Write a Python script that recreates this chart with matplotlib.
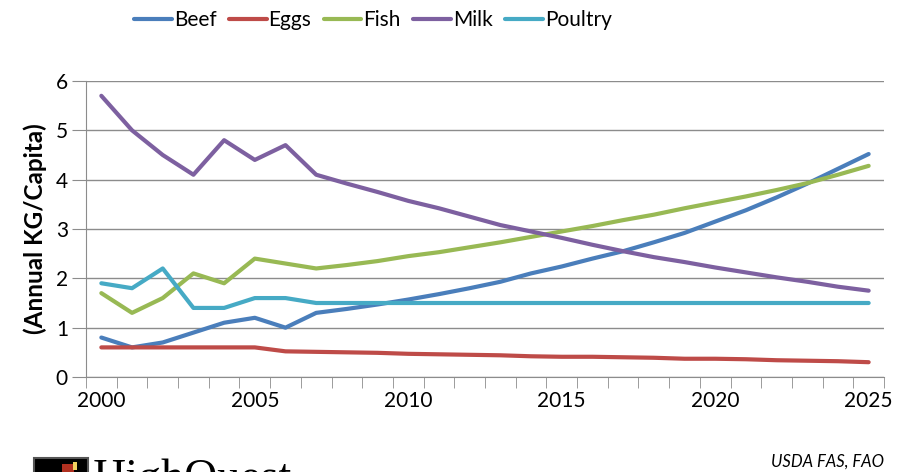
import numpy as np
import matplotlib
matplotlib.use("Agg")
import matplotlib.pyplot as plt
import matplotlib.patches as mpatches

plt.rcParams["font.family"] = ["Lato", "DejaVu Sans"]

years = list(range(2000, 2026))
beef = [0.8, 0.6, 0.7, 0.9, 1.1, 1.2, 1.0, 1.3, 1.38, 1.47, 1.57, 1.68, 1.8,
        1.93, 2.1, 2.24, 2.4, 2.55, 2.73, 2.92, 3.15, 3.38, 3.64, 3.92, 4.22, 4.52]
eggs = [0.6, 0.6, 0.6, 0.6, 0.6, 0.6, 0.52, 0.51, 0.5, 0.49, 0.47, 0.46, 0.45,
        0.44, 0.42, 0.41, 0.41, 0.4, 0.39, 0.37, 0.37, 0.36, 0.34, 0.33, 0.32, 0.3]
fish = [1.7, 1.3, 1.6, 2.1, 1.9, 2.4, 2.3, 2.2, 2.27, 2.35, 2.45, 2.53, 2.63,
        2.73, 2.84, 2.95, 3.06, 3.18, 3.29, 3.42, 3.54, 3.66, 3.79, 3.93, 4.1, 4.28]
milk = [5.7, 5.0, 4.5, 4.1, 4.8, 4.4, 4.7, 4.1, 3.92, 3.75, 3.57, 3.42, 3.25,
        3.08, 2.95, 2.82, 2.68, 2.55, 2.43, 2.33, 2.22, 2.12, 2.02, 1.93, 1.83, 1.75]
poultry = [1.9, 1.8, 2.2, 1.4, 1.4, 1.6, 1.6, 1.5, 1.5, 1.5, 1.5, 1.5, 1.5,
           1.5, 1.5, 1.5, 1.5, 1.5, 1.5, 1.5, 1.5, 1.5, 1.5, 1.5, 1.5, 1.5]

series = [("Beef", beef, "#4A7EBB"), ("Eggs", eggs, "#BE4B48"),
          ("Fish", fish, "#98B954"), ("Milk", milk, "#7D60A0"),
          ("Poultry", poultry, "#46AAC5")]

fig = plt.figure(figsize=(8.97, 4.72), dpi=100)
ax = fig.add_axes([86 / 897, 1 - 377 / 472, (884 - 86) / 897, (377 - 81) / 472])

x = np.arange(len(years))
for name, vals, col in series:
    ax.plot(x, vals, color=col, lw=3, label=name, solid_capstyle="round")

ax.set_xlim(-0.5, len(years) - 0.5)
ax.set_ylim(0, 6)
ax.set_yticks(range(7))
ax.grid(axis="y", color="#8c8c8c", lw=1)
ax.set_axisbelow(True)

lab_idx = [i for i, y in enumerate(years) if y % 5 == 0]
ax.set_xticks(lab_idx)
ax.set_xticklabels([str(years[i]) for i in lab_idx])
ax.set_xticks(np.arange(-0.5, len(years)), minor=True)
ax.tick_params(axis="x", which="major", length=0, pad=10, labelsize=15)
ax.tick_params(axis="x", which="minor", length=8, color="#8c8c8c", direction="out")
ax.tick_params(axis="y", length=10, color="#8c8c8c", labelsize=15, pad=3)

for s in ["top", "right"]:
    ax.spines[s].set_visible(False)
for s in ["left", "bottom"]:
    ax.spines[s].set_color("#8c8c8c")

ax.set_ylabel("(Annual KG/Capita)", fontsize=17.5, fontweight="bold", labelpad=6)

fig.legend(loc="center", bbox_to_anchor=(373 / 897, 1 - 20 / 472), ncol=5,
           frameon=False, fontsize=15, handlelength=1.8, handletextpad=0.1,
           columnspacing=0.6)

fig.text(884 / 897, 1 - 462 / 472, "USDA FAS, FAO", ha="right", va="center",
         fontsize=12, style="italic")

# partially visible logo at the bottom left (cut off by the figure edge)
fig.patches.append(mpatches.Rectangle((34 / 897, -4 / 472), 54 / 897, 18 / 472,
                                      transform=fig.transFigure, facecolor="black",
                                      edgecolor="#555555", lw=1.5))
fig.patches.append(mpatches.Rectangle((62 / 897, 0), 12 / 897, 8 / 472,
                                      transform=fig.transFigure, facecolor="#b03020"))
fig.patches.append(mpatches.Rectangle((73 / 897, 2 / 472), 4 / 897, 8 / 472,
                                      transform=fig.transFigure, facecolor="#f0d060"))
fig.text(93 / 897, -19 / 472, "HighQuest", ha="left", va="baseline", fontsize=33,
         family="Liberation Serif")

fig.savefig("out.png", dpi=100)
